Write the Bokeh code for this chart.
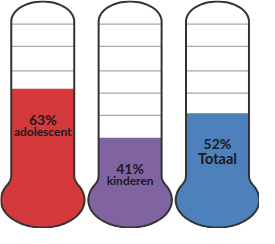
import numpy as np
from bokeh.plotting import figure
from bokeh.models import Range1d, ColumnDataSource
from bokeh.embed import file_html
from bokeh.resources import INLINE
from bokeh.core.properties import value

# ---- data ----
labels = ["adolescent", "kinderen", "Totaal"]
percentages = [63, 41, 52]
pct_labels = ["63%", "41%", "52%"]
colors = ["#d5393c", "#8064a2", "#4e80bb"]
scale_marks = [51, 61, 71, 82, 92]
label_sizes = [12, 12, 14.5]  # px

# ---- geometry (reference pixels -> data units) ----
PX_X = 91.0   # px per x unit (one thermometer per unit)
PX_V = 2.32   # px per percent

TUBE_HW = 32.8
DOME_BASE = 216.0
DOME_H = 21.0
BULB_HW = 43.5
BULB_CW = 30.0
BULB_TOP = 30.0
BULB_BOT = 28.5


def ellipse_pt(t):
    u = BULB_HW * np.cos(t)
    s = np.sin(t)
    w = BULB_CW + (BULB_TOP if s > 0 else BULB_BOT) * s
    return u, w


def bezier(p0, p1, p2, n=8):
    ts = np.linspace(0, 1, n)
    return [((1 - t) ** 2 * p0[0] + 2 * (1 - t) * t * p1[0] + t ** 2 * p2[0],
             (1 - t) ** 2 * p0[1] + 2 * (1 - t) * t * p1[1] + t ** 2 * p2[1]) for t in ts]


def outline(cx, top_v=None):
    pts = []
    tj = np.arccos(TUBE_HW / BULB_HW)
    wj = BULB_CW + BULB_TOP * np.sin(tj)
    te = tj - 0.22
    if top_v is None:
        for th in np.linspace(np.pi, 0, 40):
            pts.append((TUBE_HW * np.cos(th), DOME_BASE + DOME_H * np.sin(th)))
    else:
        tw = top_v * PX_V
        pts.append((-TUBE_HW, tw))
        pts.append((TUBE_HW, tw))
    # right fillet
    pts += bezier((TUBE_HW, wj + 6), (TUBE_HW, wj), ellipse_pt(te))
    for t in np.linspace(te, np.pi - te - 2 * np.pi, 80):
        pts.append(ellipse_pt(t))
    ue, we = ellipse_pt(np.pi - te)
    pts += bezier((ue, we), (-TUBE_HW, wj), (-TUBE_HW, wj + 6))
    xs = [cx + u / PX_X for u, w in pts]
    ys = [w / PX_V for u, w in pts]
    return xs, ys


centres = list(range(len(labels)))
shape_x, shape_y, fill_x, fill_y = [], [], [], []
for i, v in zip(centres, percentages):
    sx, sy = outline(i)
    fx, fy = outline(i, v)
    shape_x.append(sx); shape_y.append(sy)
    fill_x.append(fx); fill_y.append(fy)

p = figure(width=259, height=228, output_backend="svg", toolbar_location=None,
           x_range=Range1d(-0.4835, 2.481), y_range=Range1d(0.2, 102.6),
           x_axis_location=None, y_axis_location=None, min_border=0)
p.outline_line_color = None
p.grid.visible = False
p.background_fill_color = "white"

p.patches(shape_x, shape_y, fill_color="white", line_color=None)

gx0, gx1, gy = [], [], []
for i in centres:
    for m in scale_marks:
        gx0.append(i - TUBE_HW / PX_X); gx1.append(i + TUBE_HW / PX_X); gy.append(m)
p.segment(x0=gx0, y0=gy, x1=gx1, y1=gy, line_color="#a8a8a8", line_width=1.2)

p.patches(fill_x, fill_y, fill_color=colors, line_color=None)
p.patches(shape_x, shape_y, fill_color=None, line_color="#333333", line_width=2)

pct_y = [v - 13.7 for v in percentages]
lab_y = [py - 1.05 * (s / 0.96) / PX_V for py, s in zip(pct_y, label_sizes)]
src = ColumnDataSource(dict(x=centres, py=pct_y, ly=lab_y, pct=pct_labels, lab=labels,
                            ls=[f"{s}px" for s in label_sizes]))
p.text(x="x", y="py", text="pct", source=src, text_align="center", text_baseline="alphabetic",
       text_font=value("Lato"), text_font_style="bold", text_font_size="14px", text_color="#1a1a1a")
p.text(x="x", y="ly", text="lab", source=src, text_align="center", text_baseline="alphabetic",
       text_font=value("Lato"), text_font_style="bold", text_font_size="ls", text_color="#1a1a1a")

open("out.html", "w").write(file_html(p, INLINE))
